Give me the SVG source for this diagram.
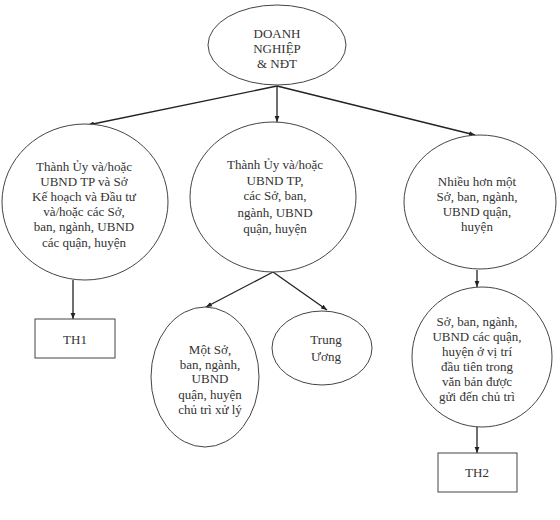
<svg xmlns="http://www.w3.org/2000/svg" width="560" height="520" viewBox="0 0 560 520">
<defs>
<marker id="ah" viewBox="0 0 10 10" refX="10" refY="5" markerWidth="6" markerHeight="6" orient="auto" markerUnits="userSpaceOnUse">
<path d="M0,1 L10,5 L0,9 Z" fill="#222"/>
</marker>
<style>
.n{fill:#fff;stroke:#444;stroke-width:1}
.t{font-family:"Liberation Serif","DejaVu Serif",serif;font-size:13px;fill:#333;text-anchor:middle}
.c{stroke:#222;stroke-width:1.3;fill:none;marker-end:url(#ah)}
</style>
</defs>
<rect width="560" height="520" fill="#fff"/>
<g id="connectors">
<line class="c" x1="277" y1="86" x2="88" y2="125"/>
<line class="c" x1="277" y1="86" x2="277" y2="122"/>
<line class="c" x1="277" y1="86" x2="475" y2="135"/>
<line class="c" x1="73" y1="280" x2="73" y2="319"/>
<line class="c" x1="273" y1="272" x2="206" y2="307"/>
<line class="c" x1="273" y1="272" x2="327" y2="310"/>
<line class="c" x1="477" y1="270" x2="477" y2="287"/>
<line class="c" x1="477" y1="427" x2="477" y2="453"/>
</g>
<g id="root">
<ellipse class="n" cx="277" cy="45" rx="69" ry="40"/>
<text class="t" x="277" y="38">DOANH</text>
<text class="t" x="277" y="53">NGHIỆP</text>
<text class="t" x="277" y="68">&amp; NĐT</text>
</g>
<g id="left">
<ellipse class="n" cx="85" cy="202" rx="83" ry="78"/>
<text class="t" x="84" y="171">Thành Ủy và/hoặc</text>
<text class="t" x="84" y="186">UBND TP và Sở</text>
<text class="t" x="84" y="201">Kế hoạch và Đầu tư</text>
<text class="t" x="84" y="216">và/hoặc các Sở,</text>
<text class="t" x="84" y="231">ban, ngành, UBND</text>
<text class="t" x="84" y="247">các quận, huyện</text>
</g>
<g id="middle">
<ellipse class="n" cx="273" cy="197" rx="83" ry="75"/>
<text class="t" x="275" y="169">Thành Ủy và/hoặc</text>
<text class="t" x="275" y="185">UBND TP,</text>
<text class="t" x="275" y="200">các Sở, ban,</text>
<text class="t" x="275" y="217">ngành, UBND</text>
<text class="t" x="275" y="233">quận, huyện</text>
</g>
<g id="right">
<ellipse class="n" cx="480" cy="202" rx="76" ry="67"/>
<text class="t" x="477" y="186">Nhiều hơn một</text>
<text class="t" x="477" y="201">Sở, ban, ngành,</text>
<text class="t" x="477" y="216">UBND quận,</text>
<text class="t" x="477" y="231">huyện</text>
</g>
<g id="th1">
<rect class="n" x="35" y="319" width="80" height="39"/>
<text class="t" x="75" y="344">TH1</text>
</g>
<g id="mot-so">
<ellipse class="n" cx="205" cy="377" rx="54" ry="70"/>
<text class="t" x="210" y="354">Một Sở,</text>
<text class="t" x="210" y="369">ban, ngành,</text>
<text class="t" x="210" y="383">UBND</text>
<text class="t" x="210" y="399">quận, huyện</text>
<text class="t" x="210" y="414">chủ trì xử lý</text>
</g>
<g id="trung-uong">
<ellipse class="n" cx="322" cy="348" rx="50" ry="37"/>
<text class="t" x="326" y="344">Trung</text>
<text class="t" x="326" y="361">Ương</text>
</g>
<g id="so-dau-tien">
<ellipse class="n" cx="482" cy="357" rx="70" ry="70"/>
<text class="t" x="477" y="326">Sở, ban, ngành,</text>
<text class="t" x="477" y="341">UBND các quận,</text>
<text class="t" x="477" y="356">huyện ở vị trí</text>
<text class="t" x="477" y="371">đầu tiên trong</text>
<text class="t" x="477" y="386">văn bản được</text>
<text class="t" x="477" y="401">gửi đến chủ trì</text>
</g>
<g id="th2">
<rect class="n" x="438" y="453" width="79" height="39"/>
<text class="t" x="477" y="477">TH2</text>
</g>
</svg>
